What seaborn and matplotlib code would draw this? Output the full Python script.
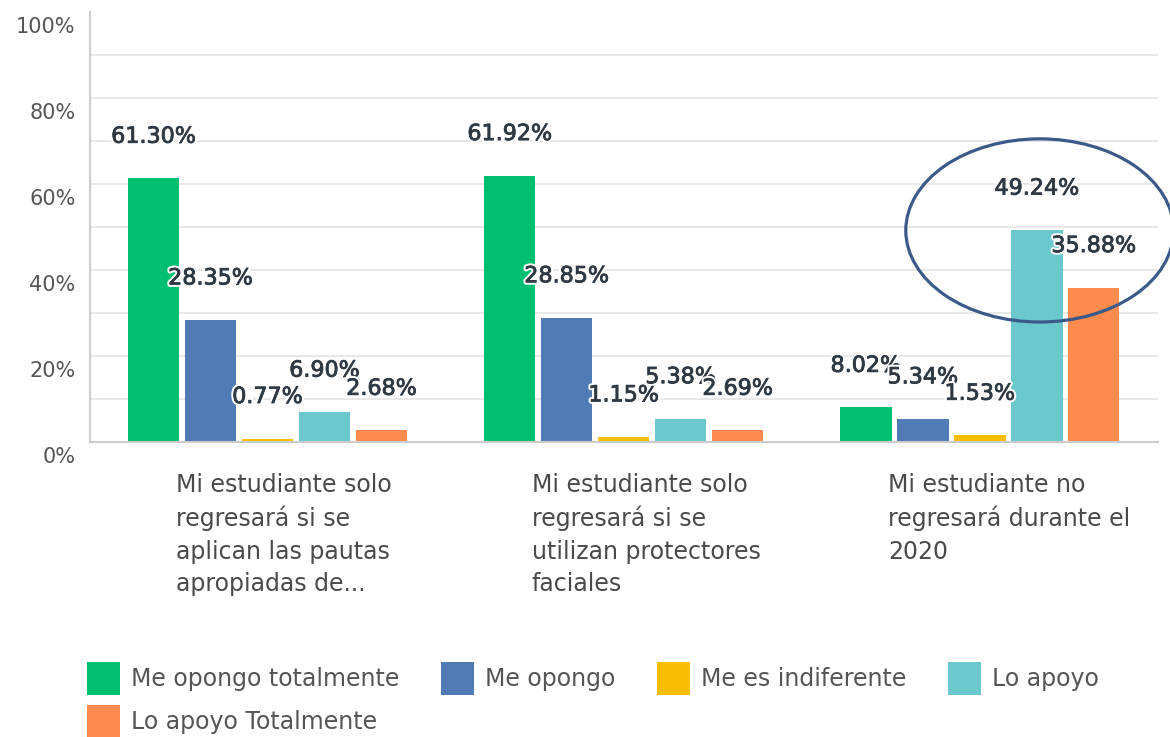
import matplotlib
matplotlib.use('Agg')
import matplotlib.pyplot as plt
import matplotlib.patheffects as pe
from matplotlib.patches import Ellipse, Patch
from matplotlib.transforms import ScaledTranslation
import pandas as pd
import seaborn as sns

# ---------------------------
# Data
# ---------------------------
categories = [
    "Mi estudiante solo\nregresará si se\naplican las pautas\napropiadas de...",
    "Mi estudiante solo\nregresará si se\nutilizan protectores\nfaciales",
    "Mi estudiante no\nregresará durante el\n2020",
]
responses = ["Me opongo totalmente", "Me opongo", "Me es indiferente",
             "Lo apoyo", "Lo apoyo Totalmente"]
colors = ["#00BF6F", "#507CB6", "#F9BE00", "#6BC8CD", "#FF8B4F"]

opongo_tot = [61.30, 61.92, 8.02]
opongo = [28.35, 28.85, 5.34]
indiferente = [0.77, 1.15, 1.53]
apoyo = [6.90, 5.38, 49.24]
apoyo_tot = [2.68, 2.69, 35.88]

y_ticks = [0, 20, 40, 60, 80, 100]
y_tick_labels = ["0%", "20%", "40%", "60%", "80%", "100%"]

series = [opongo_tot, opongo, indiferente, apoyo, apoyo_tot]
rows = []
for resp, vals in zip(responses, series):
    for cat, v in zip(categories, vals):
        rows.append({"cat": cat, "resp": resp, "pct": v})
df = pd.DataFrame(rows)

# ---------------------------
# Plot
# ---------------------------
sns.set_style("white")
plt.rcParams['font.family'] = ['DejaVu Sans']

fig = plt.figure(figsize=(11.7, 7.37), dpi=100)
ax = fig.add_axes([0.0765, 0.4003, 0.9132, 0.5834])

sns.barplot(data=df, x="cat", y="pct", hue="resp", order=categories,
            hue_order=responses, palette=colors, saturation=1,
            width=0.8, gap=0.1, linewidth=0, legend=False, ax=ax)

# value labels (slightly heavier text with a white halo)
label_fx = [pe.Stroke(linewidth=3.5, foreground="white"),
            pe.Stroke(linewidth=0.6, foreground="#2f3943"),
            pe.Normal()]
for cont in ax.containers:
    for bar, v in zip(cont, cont.datavalues):
        ax.annotate(f"{v:.2f}%", xy=(bar.get_x() + bar.get_width() / 2, v),
                    xytext=(0, 30), textcoords="offset points",
                    ha="center", va="center", fontsize=16, color="#2f3943",
                    path_effects=label_fx, zorder=5)

ax.set_xlim(-0.5, 2.5)
ax.set_ylim(0, 100)
ax.set_xlabel("")
ax.set_ylabel("")

# grid every 10% (none on the top edge)
for g in range(10, 100, 10):
    ax.axhline(g, color="#e8e8e8", linewidth=1.5, zorder=0)

ax.set_yticks(y_ticks)
ax.set_yticklabels(y_tick_labels, fontsize=15, color="#555555")
ax.tick_params(axis="y", length=0, pad=10)
for lbl in ax.get_yticklabels():
    lbl.set_transform(lbl.get_transform()
                      + ScaledTranslation(0, -0.13, fig.dpi_scale_trans))

ax.set_xticks(range(len(categories)))
ax.set_xticklabels(categories, fontsize=17, color="#4a4a4a", ha="left",
                   linespacing=1.45)
ax.tick_params(axis="x", length=0, pad=22)
for lbl in ax.get_xticklabels():
    lbl.set_transform(lbl.get_transform()
                      + ScaledTranslation(-0.92, 0, fig.dpi_scale_trans))

sns.despine(ax=ax, top=True, right=True)
for s in ["left", "bottom"]:
    ax.spines[s].set_color("#cccccc")
    ax.spines[s].set_linewidth(1.5)

# highlight ellipse
ax.add_patch(Ellipse((2.168, 49.2), 0.752, 42.6, fill=False,
                     edgecolor="#3b5a8a", linewidth=2.3, clip_on=False,
                     zorder=6))

# legend
handles = [Patch(facecolor=c, edgecolor="none", label=r)
           for c, r in zip(colors, responses)]
order = [0, 4, 1, 2, 3]
fig.legend([handles[i] for i in order], [responses[i] for i in order],
           ncol=4, loc="upper left", bbox_to_anchor=(87 / 1170, 1 - 662 / 737),
           frameon=False, fontsize=17, handlelength=1.4, handleheight=1.75,
           handletextpad=0.47, columnspacing=1.75, labelspacing=0.42,
           borderpad=0, borderaxespad=0, labelcolor="#555555")

fig.savefig("out.png", dpi=100)
plt.close()
